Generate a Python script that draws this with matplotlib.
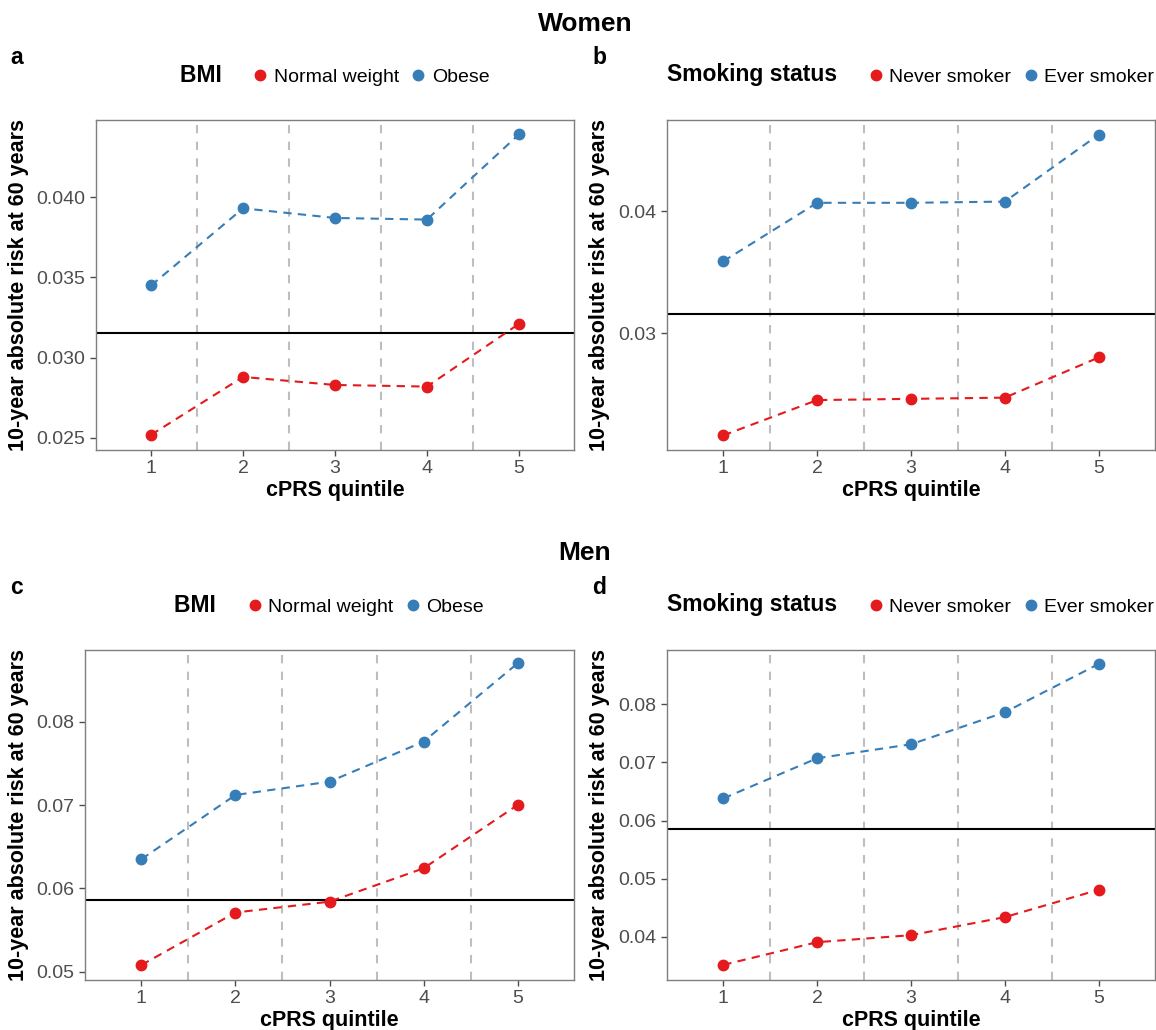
import matplotlib
matplotlib.use('Agg')
import matplotlib.pyplot as plt
from matplotlib.lines import Line2D

plt.rcParams['font.family'] = ['Liberation Sans', 'DejaVu Sans']

quintiles = [1, 2, 3, 4, 5]

# Women
women_bmi_normal = [0.0252, 0.0288, 0.0283, 0.0282, 0.0321]
women_bmi_obese = [0.0345, 0.0393, 0.0387, 0.0386, 0.0439]
women_smoke_never = [0.0216, 0.0245, 0.0246, 0.0247, 0.0280]
women_smoke_ever = [0.0359, 0.0407, 0.0407, 0.0408, 0.0463]
women_overall = 0.03156

# Men
men_bmi_normal = [0.0508, 0.0571, 0.0584, 0.0624, 0.0700]
men_bmi_obese = [0.0635, 0.0712, 0.0728, 0.0776, 0.0870]
men_smoke_never = [0.0352, 0.0391, 0.0403, 0.0434, 0.0481]
men_smoke_ever = [0.0638, 0.0707, 0.0731, 0.0786, 0.0869]
men_overall = 0.0586

RED = '#E41A1C'
BLUE = '#377EB8'
W, H = 1156, 1030

panels = [
    # letter, box (l, t, r, b) in px, legend title, labels, low, high, overall, ylim, ticks, fmt
    ('a', (96, 120, 574, 450), 'BMI', ('Normal weight', 'Obese'),
     women_bmi_normal, women_bmi_obese, women_overall,
     (0.02425, 0.0448), [0.025, 0.030, 0.035, 0.040], '{:.3f}'),
    ('b', (667, 120, 1155, 450), 'Smoking status', ('Never smoker', 'Ever smoker'),
     women_smoke_never, women_smoke_ever, women_overall,
     (0.0204, 0.0475), [0.03, 0.04], '{:.2f}'),
    ('c', (85, 650, 574, 980), 'BMI', ('Normal weight', 'Obese'),
     men_bmi_normal, men_bmi_obese, men_overall,
     (0.049, 0.0886), [0.05, 0.06, 0.07, 0.08], '{:.2f}'),
    ('d', (667, 650, 1155, 980), 'Smoking status', ('Never smoker', 'Ever smoker'),
     men_smoke_never, men_smoke_ever, men_overall,
     (0.0326, 0.0893), [0.04, 0.05, 0.06, 0.07, 0.08], '{:.2f}'),
]

fig = plt.figure(figsize=(W / 100, H / 100), dpi=100)

fig.text(585 / W, 1 - 24 / H, 'Women', fontsize=19, fontweight='bold', ha='center', va='center')
fig.text(585 / W, 1 - 553 / H, 'Men', fontsize=19, fontweight='bold', ha='center', va='center')

for letter, (l, t, r, b), title, labels, low, high, overall, ylim, ticks, fmt in panels:
    ax = fig.add_axes([l / W, 1 - b / H, (r - l) / W, (b - t) / H])
    for xv in [1.5, 2.5, 3.5, 4.5]:
        ax.axvline(xv, color='#BEBEBE', lw=1.5, ls=(0, (4, 4)), zorder=1)
    ax.axhline(overall, color='black', lw=1.5, zorder=2)
    ax.plot(quintiles, low, color=RED, lw=1.5, ls=(0, (4, 3)), marker='o', ms=7.5, zorder=3)
    ax.plot(quintiles, high, color=BLUE, lw=1.5, ls=(0, (4, 3)), marker='o', ms=7.5, zorder=3)

    ax.set_xlim(0.4, 5.6)
    ax.set_ylim(*ylim)
    ax.set_xticks(quintiles)
    ax.set_yticks(ticks)
    ax.set_yticklabels([fmt.format(v) for v in ticks])
    ax.tick_params(labelsize=14, labelcolor='#4D4D4D', color='#4D4D4D', length=4, width=1)
    for sp in ax.spines.values():
        sp.set_color('#7F7F7F')
        sp.set_linewidth(1)
    ax.set_xlabel('cPRS quintile', fontsize=15.5, fontweight='bold', labelpad=2)

    left_col = letter in 'ac'
    fig.text((19 if left_col else 600) / W, 1 - (t + b) / 2 / H,
             '10-year absolute risk at 60 years',
             rotation=90, fontsize=15.5, fontweight='bold', ha='center', va='center')
    fig.text((10 if left_col else 592) / W, 1 - (t - 62) / H, letter,
             fontsize=16.5, fontweight='bold', ha='left', va='center')

    # legend title sits inline, to the left of the keys
    handles = [Line2D([], [], ls='none', marker=None),
               Line2D([], [], ls='none', marker='o', ms=7.5, color=RED),
               Line2D([], [], ls='none', marker='o', ms=7.5, color=BLUE)]
    leg = ax.legend(handles, [title + '   ', labels[0], labels[1]], ncol=3, frameon=False,
                    loc='center', bbox_to_anchor=(0.5 - 11 / (r - l), 1 + 45 / (b - t)),
                    fontsize=14, handlelength=0.8, handletextpad=0.3,
                    columnspacing=0.6, borderaxespad=0)
    leg.get_texts()[0].set_fontweight('bold')
    leg.get_texts()[0].set_fontsize(16.5)

fig.savefig('out.png', dpi=100)
